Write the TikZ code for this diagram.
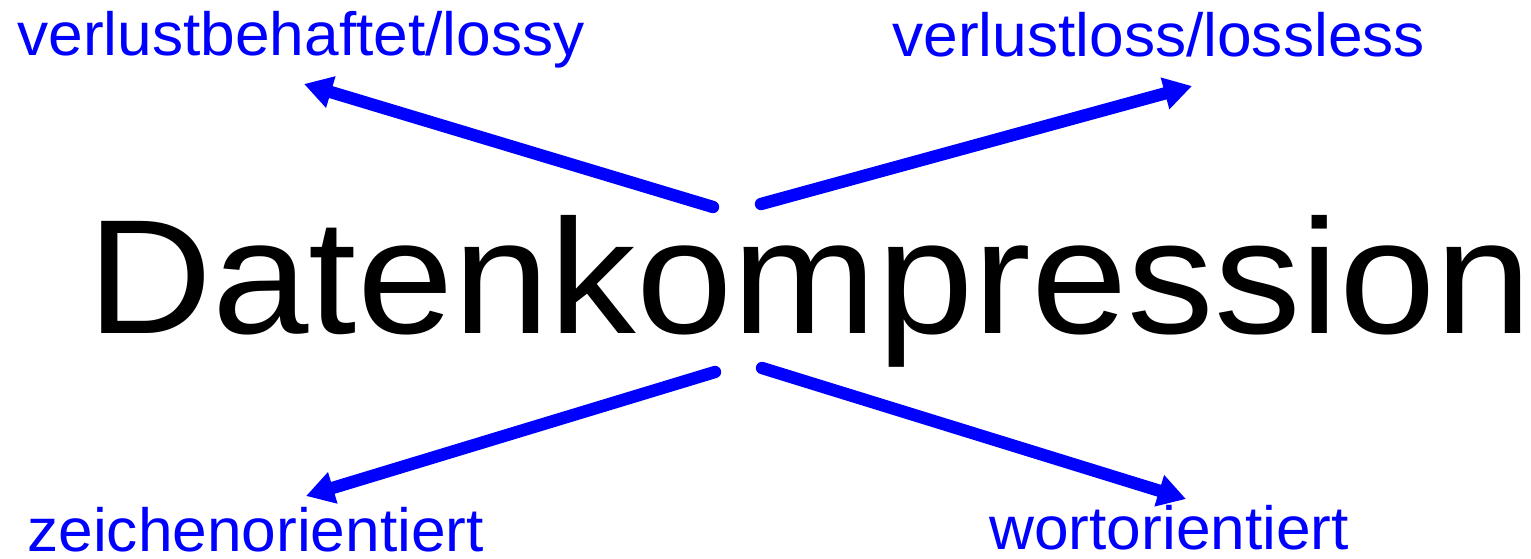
\documentclass[tikz,border=0pt]{standalone}
\usepackage{fontspec}
\setmainfont{Liberation Sans}
\usetikzlibrary{arrows.meta}
\definecolor{pureblue}{RGB}{0,0,255}
\tikzset{
  lbl/.style={text=pureblue, font=\fontsize{30.5pt}{36pt}\selectfont, anchor=base west, inner sep=0pt, text depth=0pt, xscale=1.02},
  ttl/.style={text=black, font=\fontsize{81.5pt}{96pt}\selectfont, anchor=base west, inner sep=0pt, xscale=1.063},
  arr/.style={draw=pureblue, line width=6.2pt, line cap=round, -{Triangle[length=14pt,width=15.5pt]}}
}
\begin{document}
\begin{tikzpicture}[x=0.5pt,y=-0.5pt]
\useasboundingbox (0,0) rectangle (1531,558);
\node[ttl] (title) at (87,333) {Datenkompression};
\node[lbl] (lossy) at (17,55) {verlustbehaftet/lossy};
\node[lbl] (lossless) at (892,56) {verlustloss/lossless};
\node[lbl] (zeichen) at (27,551) {zeichenorientiert};
\node[lbl] (wort) at (989,549) {wortorientiert};
\coordinate (s1) at (713,207);
\coordinate (e1) at (304,84);
\coordinate (s2) at (761,204);
\coordinate (e2) at (1192,86);
\coordinate (s3) at (715,372);
\coordinate (e3) at (306,496);
\coordinate (s4) at (762,368);
\coordinate (e4) at (1186,499);
\draw[arr] (s1) -- (e1);
\draw[arr] (s2) -- (e2);
\draw[arr] (s3) -- (e3);
\draw[arr] (s4) -- (e4);
\end{tikzpicture}
\end{document}
